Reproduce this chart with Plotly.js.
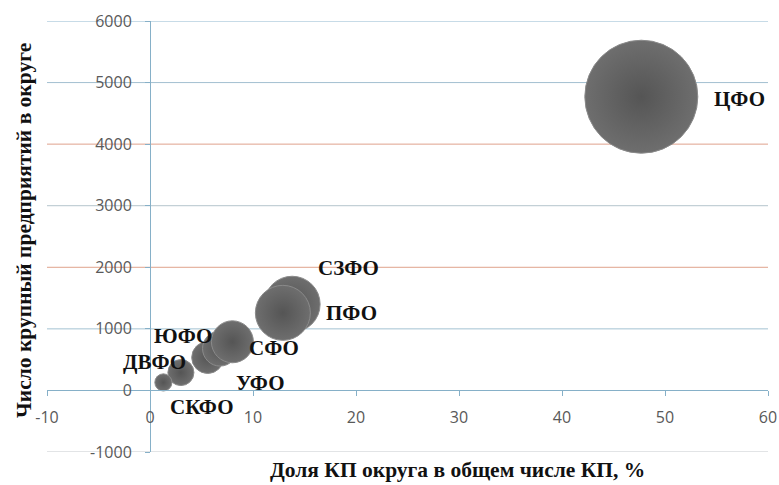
<!DOCTYPE html>
<html><head><meta charset="utf-8">
<script src="https://cdn.plot.ly/plotly-3.0.1.min.js"></script>
<style>html,body{margin:0;padding:0;background:#fff}#chart{width:779px;height:485px}</style>
</head><body><div id="chart"></div>
<script>
// ---- data ----
const districts   = ['ЦФО', 'СЗФО', 'ПФО', 'ЮФО', 'УФО', 'СФО', 'ДВФО', 'СКФО'];
const sharePct    = [47.7, 13.8, 12.9, 5.6, 6.8, 8.0, 3.0, 1.3];
const enterprises = [4770, 1400, 1260, 535, 680, 790, 290, 130];
const bubbleValue = [100, 24.5, 23.7, 8.0, 9.6, 13.8, 5.3, 2.3];
const xTickVals = [-10, 0, 10, 20, 30, 40, 50, 60];
const yTickVals = [-1000, 0, 1000, 2000, 3000, 4000, 5000, 6000];
const xTitle = 'Доля КП округа в общем числе КП, %';
const yTitle = 'Число крупный предприятий в округе';

// ---- styles ----
const labelOffset = { // pixel shifts of the label centre from the bubble centre
  'ЦФО':  [98, -2],
  'СЗФО': [56, 36],
  'ПФО':  [69, 0],
  'СФО':  [42, -6],
  'УФО':  [40, -34],
  'ЮФО':  [-25, 21],
  'ДВФО': [-26, 11],
  'СКФО': [38, -25]
};
const gridColors = ['#c4c8cc', '#86b0c8', '#a3c2d2', '#dfa28c', '#b4c4cc', '#dfa28c', '#a3bfd0', '#8fb8d0'];
const maxDiameter = 113;
const axisBlue = '#86b0c8';
const tickFont = {family: 'Open Sans', size: 16, color: '#595959'};
const labelFont = {family: 'Liberation Serif', size: 21, color: '#111'};
const titleFont = {family: 'Liberation Serif', size: 21.5, color: '#111'};

const trace = {
  type: 'scatter', mode: 'markers',
  x: sharePct, y: enterprises, text: districts,
  marker: {
    size: bubbleValue, sizemode: 'area',
    sizeref: 2 * Math.max(...bubbleValue) / (maxDiameter * maxDiameter),
    color: '#6e6e6e', opacity: 1,
    gradient: {type: 'radial', color: '#555555'},
    line: {color: '#8a8a8a', width: 1}
  },
  cliponaxis: false, hoverinfo: 'text'
};

const annotations = districts.map((d, i) => ({
  x: sharePct[i], y: enterprises[i], xref: 'x', yref: 'y',
  text: '<b>' + d + '</b>', showarrow: false,
  xanchor: 'center', yanchor: 'middle',
  xshift: labelOffset[d][0], yshift: labelOffset[d][1],
  font: labelFont
}));
annotations.push({
  xref: 'paper', yref: 'paper', x: 0.57, y: -0.042, xanchor: 'center', yanchor: 'middle',
  text: '<b>' + xTitle + '</b>', showarrow: false, font: titleFont
});
annotations.push({
  xref: 'paper', yref: 'paper', x: -0.032, y: 0.515, xanchor: 'center', yanchor: 'middle',
  text: '<b>' + yTitle + '</b>', showarrow: false, font: titleFont, textangle: -90
});

const gridShapes = yTickVals.filter(v => v !== 0).map(v => ({
  type: 'line', xref: 'paper', yref: 'y', x0: 0, x1: 1, y0: v, y1: v,
  line: {color: gridColors[yTickVals.indexOf(v)], width: 1}, layer: 'below'
}));

const layout = {
  width: 779, height: 485,
  margin: {l: 47, r: 11, t: 21, b: 33, pad: 0},
  paper_bgcolor: '#fff', plot_bgcolor: '#fff',
  showlegend: false,
  font: {family: 'Open Sans'},
  xaxis: {
    range: [-10, 60], tickvals: xTickVals, ticktext: xTickVals.map(String),
    showgrid: false, zeroline: false,
    anchor: 'free', position: 1000 / 7000,
    showline: true, linecolor: axisBlue, linewidth: 1,
    ticks: 'outside', ticklen: 5, tickcolor: axisBlue,
    tickfont: tickFont, ticklabelstandoff: 7, automargin: false
  },
  yaxis: {
    range: [-1000, 6000], tickvals: yTickVals, ticktext: yTickVals.map(String),
    showgrid: false, zeroline: false,
    anchor: 'free', position: 10 / 70,
    showline: true, linecolor: axisBlue, linewidth: 1,
    ticks: 'outside', ticklen: 5, tickcolor: axisBlue,
    tickfont: tickFont, ticklabelstandoff: 10, automargin: false
  },
  shapes: gridShapes,
  annotations: annotations
};

Plotly.newPlot('chart', [trace], layout, {staticPlot: true, displayModeBar: false});
</script>
</body></html>
